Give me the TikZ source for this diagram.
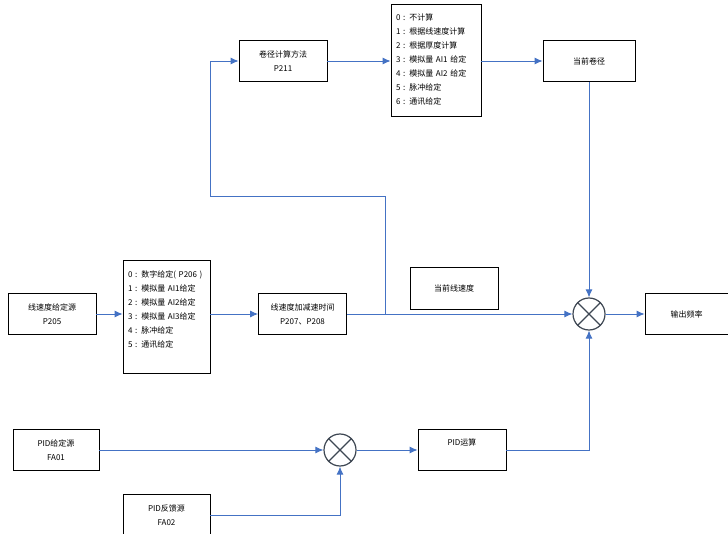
\documentclass[tikz,border=0pt]{standalone}
\usepackage{fontspec}
\setmainfont{Noto Sans CJK SC}
\usetikzlibrary{arrows.meta, positioning}
\definecolor{linkblue}{HTML}{4472C4}
\definecolor{ringgrey}{HTML}{3E4753}
\tikzset{
  box/.style={
    rectangle, draw=black, fill=white, line width=0.8pt,
    minimum width=88pt, minimum height=41pt, inner sep=2pt,
    align=center, font=\fontsize{8}{14}\selectfont
  },
  listbox/.style={box, align=left, text width=80pt, inner xsep=5pt},
  summer/.style={circle, draw=ringgrey, fill=white, line width=1.2pt,
    minimum size=32pt, inner sep=0pt},
  arrow/.style={-{Latex[length=8pt,width=7pt]}, line width=0.9pt, draw=linkblue},
}

\begin{document}
\begin{tikzpicture}[x=1pt, y=-1pt]
  \useasboundingbox (0,0) rectangle (728,534);

  % upper branch: diameter calculation
  \node[box] (dia) at (283,61) {卷径计算方法\\P211};
  \node[listbox, minimum height=112pt] (modes) at (436,60)
    {0 : 不计算\\
     1 : 根据线速度计算\\
     2 : 根据厚度计算\\
     3 : 模拟量 AI1 给定\\
     4 : 模拟量 AI2 给定\\
     5 : 脉冲给定\\
     6 : 通讯给定};
  \node[box, minimum width=92pt] (curdia) at (589,61) {当前卷径};

  % line speed path
  \node[box] (speedsrc) at (52,314) {线速度给定源\\P205};
  \node[listbox, minimum width=87pt, text width=77pt, minimum height=113pt] (speedmodes) at (166.5,316.5)
    {0 : 数字给定( P206 )\\
     1 : 模拟量 AI1给定\\
     2 : 模拟量 AI2给定\\
     3 : 模拟量 AI3给定\\
     4 : 脉冲给定\\
     5 : 通讯给定\\
     \mbox{}};
  \node[box] (ramp) at (302.5,314) {线速度加减速时间\\P207、P208};
  \node[box, minimum width=88pt, minimum height=42pt] (curspeed) at (454,288) {当前线速度};
  \node[summer] (sum) at (589,314) {};
  \draw[ringgrey, line width=1.2pt] (sum.north west) -- (sum.south east)
    (sum.north east) -- (sum.south west);
  \node[box, minimum width=83pt] (output) at (686.5,314) {输出频率};

  % PID path
  \node[box, minimum width=86pt] (pidref) at (56,450) {PID给定源\\FA01};
  \node[summer] (pidsum) at (340,450) {};
  \draw[ringgrey, line width=1.2pt] (pidsum.north west) -- (pidsum.south east)
    (pidsum.north east) -- (pidsum.south west);
  \node[box, text depth=16pt] (pid) at (462,450) {PID运算};
  \node[box, minimum width=87pt, minimum height=42pt] (pidfb) at (166.5,515) {PID反馈源\\FA02};

  \coordinate (tap) at (385,314);
  \coordinate (bend) at (210,196);

  \draw[arrow] (dia.east) -- (dia.east -| modes.west);
  \draw[arrow] (dia.east -| modes.east) -- (curdia.west);
  \draw[arrow] (curdia) -- (sum);
  \draw[arrow] (speedsrc.east) -- (speedsrc.east -| speedmodes.west);
  \draw[arrow] (ramp.west -| speedmodes.east) -- (ramp.west);
  \draw[arrow] (ramp.east) -- (sum.west);
  \draw[arrow] (tap) |- (bend) |- (dia.west);
  \draw[arrow] (sum) -- (output);
  \draw[arrow] (pidref) -- (pidsum);
  \draw[arrow] (pidsum) -- (pid);
  \draw[arrow] (pid.east) -| (sum.south);
  \draw[arrow] (pidfb.east) -| (pidsum.south);
\end{tikzpicture}
\end{document}
